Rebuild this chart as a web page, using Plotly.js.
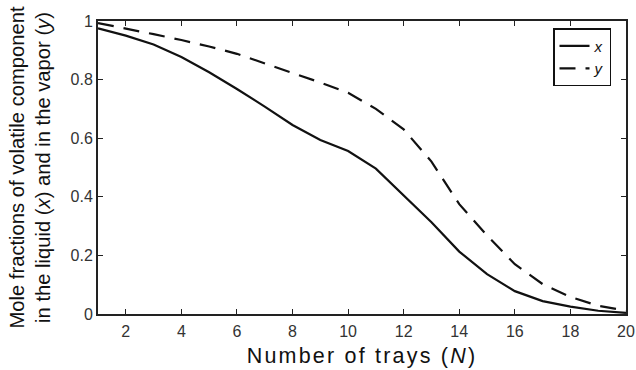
<!DOCTYPE html>
<html><head><meta charset="utf-8">
<script src="https://cdn.plot.ly/plotly-3.0.1.min.js"></script>
<style>body{margin:0;background:#fff}#c{width:636px;height:370px}
.xtitle{letter-spacing:2.2px}</style>
</head><body><div id="c"></div>
<script>
const trays = [1,2,3,4,5,6,7,8,9,10,11,12,13,14,15,16,17,18,19,20];
const xLiquid = [0.975,0.950,0.920,0.877,0.825,0.768,0.708,0.645,0.594,0.556,0.496,0.406,0.313,0.213,0.136,0.078,0.044,0.025,0.011,0.004];
const yVapor = [0.993,0.975,0.955,0.935,0.913,0.888,0.856,0.822,0.790,0.755,0.700,0.630,0.520,0.375,0.268,0.170,0.102,0.058,0.028,0.012];
const xTicks = [2,4,6,8,10,12,14,16,18,20];
const yTicks = [0,0.2,0.4,0.6,0.8,1];

const FONT = 'Arial';
const traces = [
  {x: trays, y: xLiquid, mode:'lines', name:'<i>x</i>', line:{color:'#111', width:2.2}},
  {x: trays, y: yVapor, mode:'lines', name:'<i>y</i>', line:{color:'#111', width:2.2, dash:'16px,10px'}}
];
const axisCommon = {showgrid:false, zeroline:false, showline:true, linecolor:'#222', linewidth:2,
  mirror:'ticks', ticks:'inside', ticklen:5, tickcolor:'#222', tickwidth:1,
  tickfont:{family:FONT, size:16, color:'#333'}};
const layout = {
  width:636, height:370, margin:{l:98, r:10, t:21, b:56},
  paper_bgcolor:'#fff', plot_bgcolor:'#fff', showlegend:true,
  xaxis: Object.assign({}, axisCommon, {range:[1,20], tickvals:xTicks, ticklabelstandoff:2,
    title:{text:'Number of trays (<i>N</i>)', font:{family:FONT, size:21.5, color:'#111'}, standoff:9}}),
  yaxis: Object.assign({}, axisCommon, {range:[0,1], tickvals:yTicks,
    title:{text:'Mole fractions of volatile component<br>in the liquid (<i>x</i>) and in the vapor (<i>y</i>)', font:{family:FONT, size:20.2, color:'#111'}, standoff:14}}),
  legend:{x:0.9716, y:0.976, xanchor:'right', yanchor:'top', bordercolor:'#111', borderwidth:1.5,
    bgcolor:'#fff', font:{family:FONT, size:15, color:'#111'}, itemwidth:30, tracegroupgap:0}
};
Plotly.newPlot('c', traces, layout, {displayModeBar:false, staticPlot:true});
</script></body></html>
